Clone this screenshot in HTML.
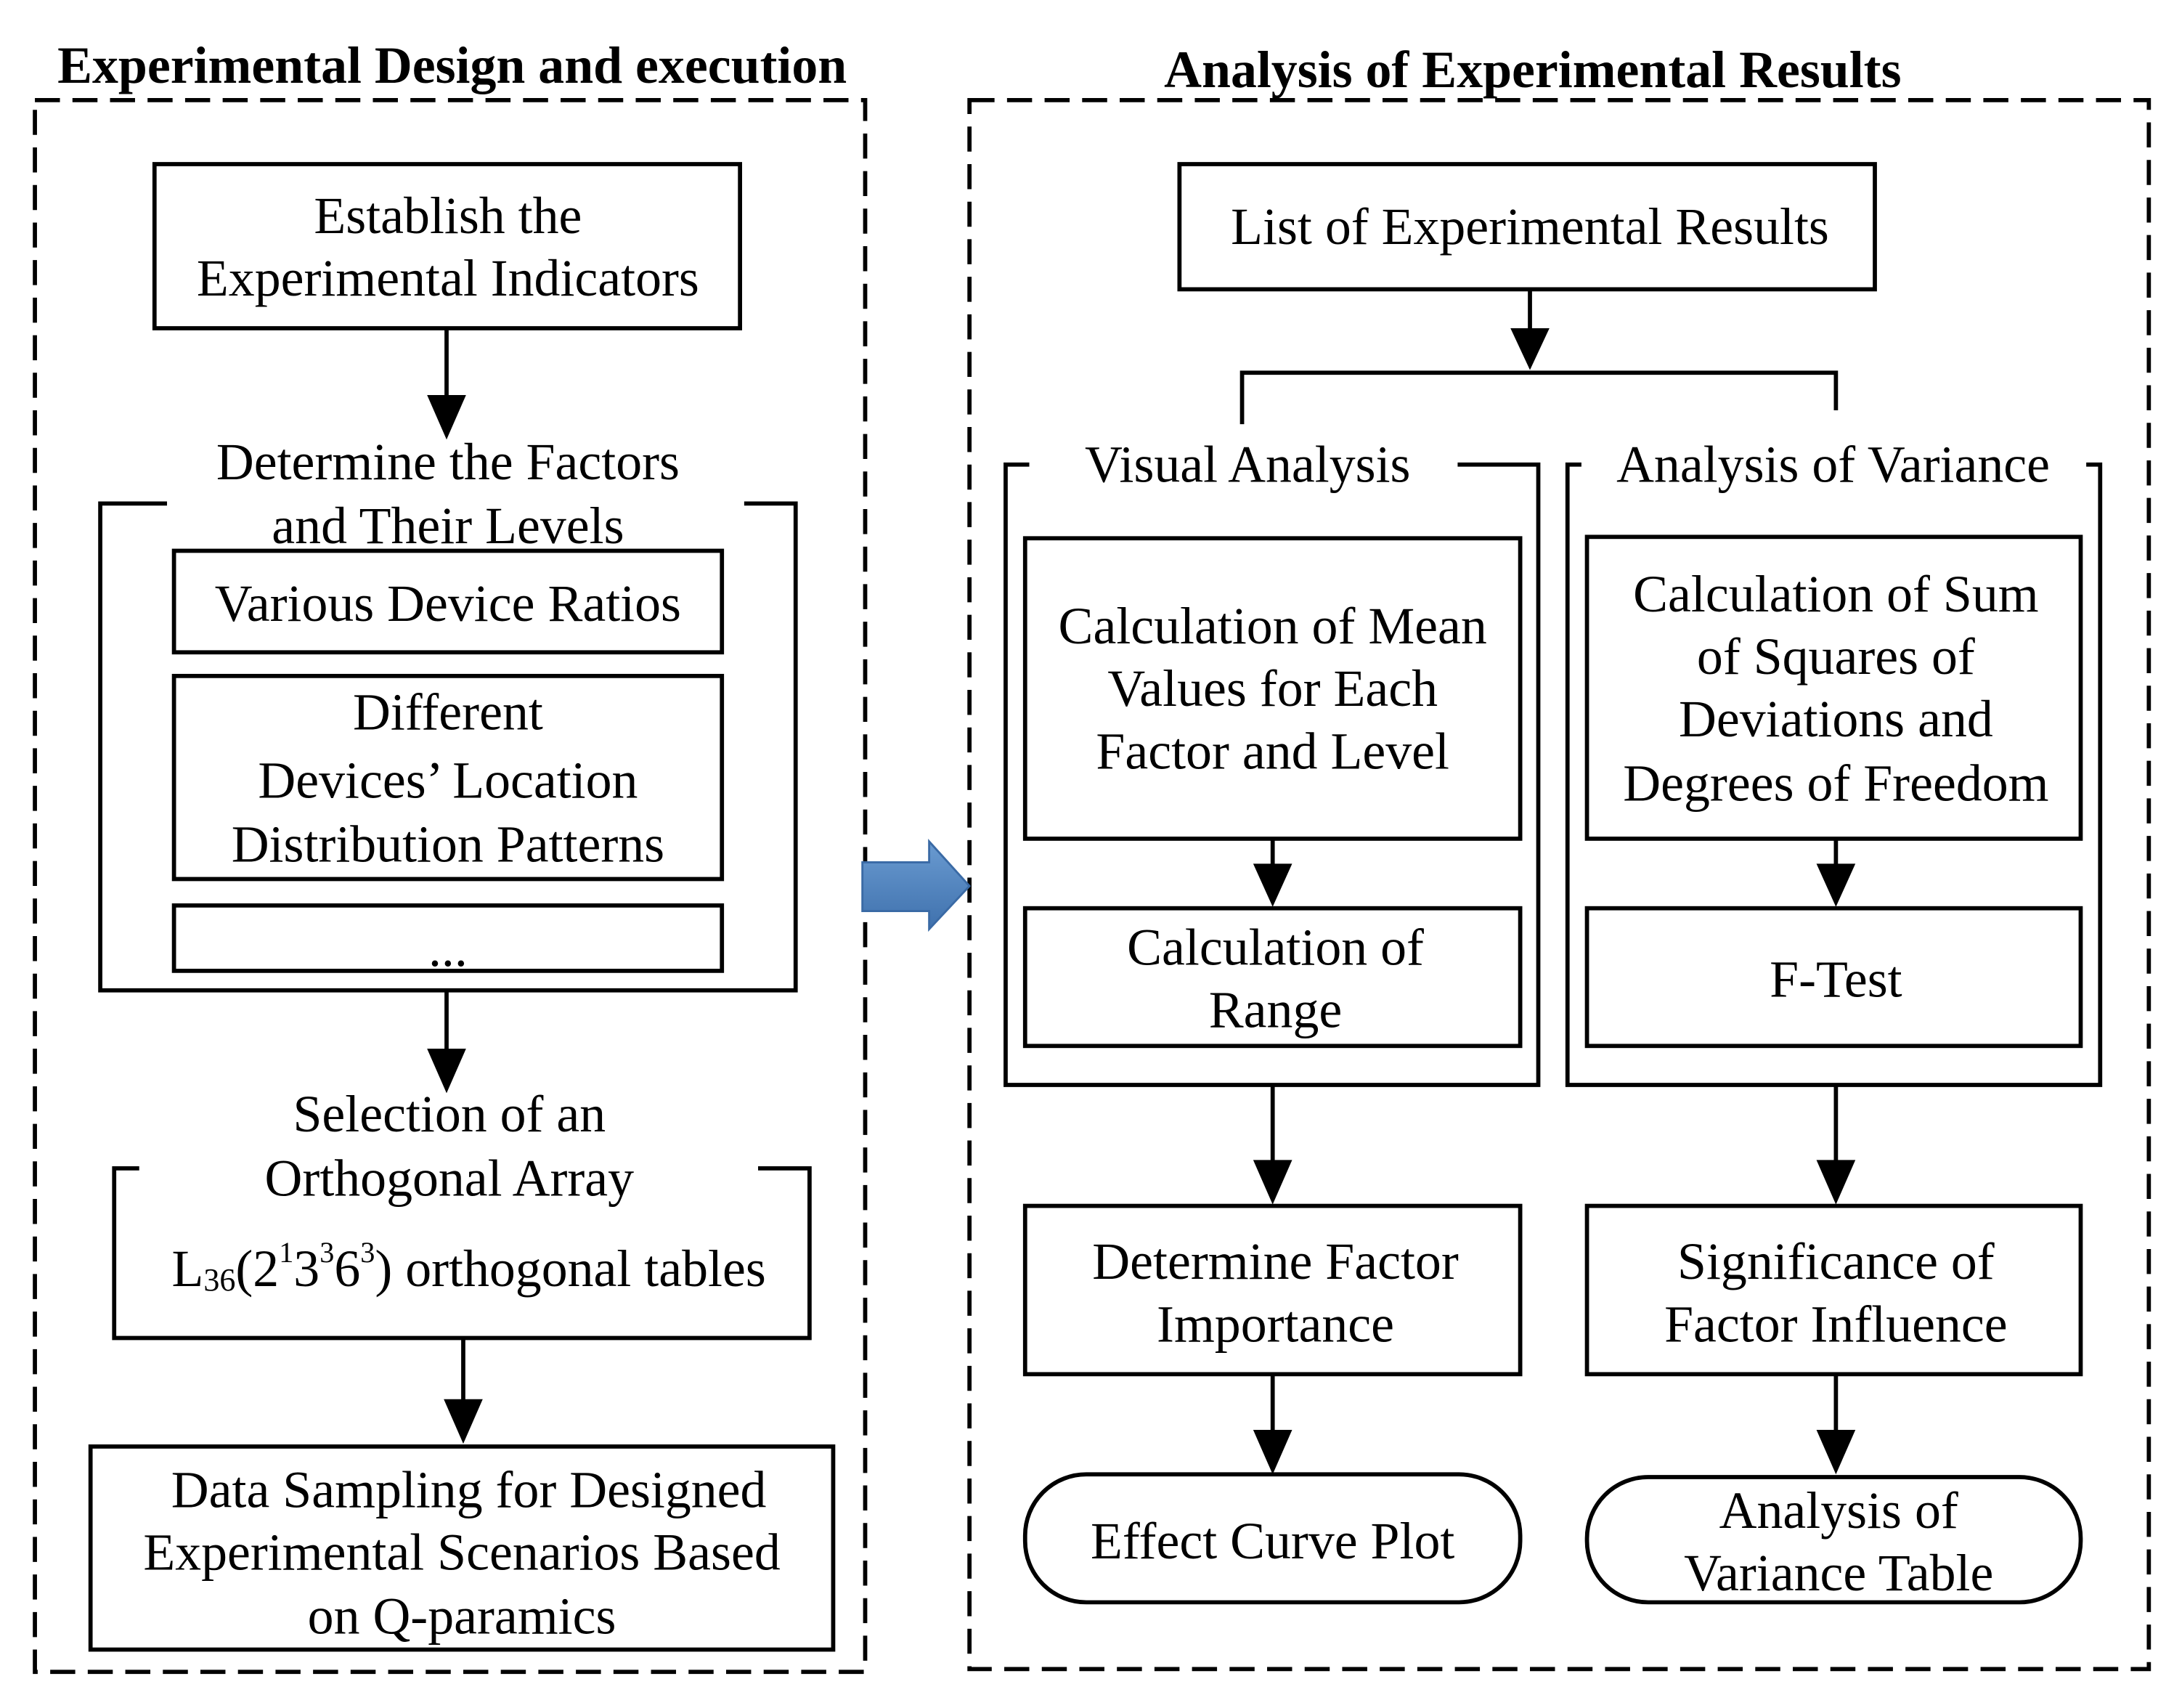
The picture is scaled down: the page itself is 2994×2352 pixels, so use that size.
<!DOCTYPE html>
<html><head><meta charset="utf-8"><style>
html,body{margin:0;padding:0;background:#fff;}
svg{display:block;}
text{font-family:"Liberation Serif",serif;font-size:37.5px;fill:#000;}
.b{font-weight:bold;font-size:37.5px;}
</style></head><body>
<svg width="2994" height="2352" viewBox="0 0 1563 1228" xmlns="http://www.w3.org/2000/svg">
<defs>
<linearGradient id="g" x1="0" y1="0" x2="0" y2="1"><stop offset="0" stop-color="#6a9bd1"/><stop offset="1" stop-color="#3f71ad"/></linearGradient>
</defs>
<g fill="none" stroke="#000" stroke-width="3">
<rect x="25" y="72" width="597" height="1130" stroke-dasharray="18,9"/>
<rect x="697" y="72" width="848" height="1128" stroke-dasharray="18,9"/>
<rect x="111" y="118" width="421" height="118"/>
<path d="M120 362H72V712H572V362H535"/>
<rect x="125" y="396" width="394" height="73"/>
<rect x="125" y="486" width="394" height="146"/>
<rect x="125" y="651" width="394" height="47"/>
<path d="M100 840H82V962H582V840H545"/>
<rect x="65" y="1040" width="534" height="146"/>
<rect x="848" y="118" width="500" height="90"/>
<path d="M893 305V268H1320V295"/>
<path d="M740 334H723V780H1106V334H1048"/>
<path d="M1137 334H1127V780H1510V334H1500"/>
<rect x="737" y="387" width="356" height="216"/>
<rect x="737" y="653" width="356" height="99"/>
<rect x="1141" y="386" width="355" height="217"/>
<rect x="1141" y="653" width="355" height="99"/>
<rect x="737" y="867" width="356" height="121"/>
<rect x="1141" y="867" width="355" height="121"/>
<rect x="737" y="1060" width="356" height="92" rx="44"/>
<rect x="1141" y="1062" width="355" height="90" rx="44"/>
<path d="M321 236V290M321 712V760M333 962V1012M1100 208V240M915 603V627M1320 603V627M915 780V840M1320 780V840M915 988V1034M1320 988V1034"/>
</g>
<g fill="#000">
<path d="M307 284H335L321 316Z"/>
<path d="M307 754H335L321 786Z"/>
<path d="M319 1006H347L333 1038Z"/>
<path d="M1086 236H1114L1100 266Z"/>
<path d="M901 621H929L915 652Z"/>
<path d="M1306 621H1334L1320 652Z"/>
<path d="M901 834H929L915 866Z"/>
<path d="M1306 834H1334L1320 866Z"/>
<path d="M901 1028H929L915 1060Z"/>
<path d="M1306 1028H1334L1320 1060Z"/>
</g>
<path d="M620 620H668V605L697 637L668 668V655H620Z" fill="url(#g)" stroke="#3a6aa5" stroke-width="1.5"/>
<g text-anchor="middle" dominant-baseline="central">
<text class="b" x="325" y="47">Experimental Design and execution</text>
<text class="b" x="1102" y="50">Analysis of Experimental Results</text>
<text x="322" y="155">Establish the</text>
<text x="322" y="200">Experimental Indicators</text>
<text x="322" y="332">Determine the  Factors</text>
<text x="322" y="378">and Their Levels</text>
<text x="322" y="434">Various Device Ratios</text>
<text x="322" y="512">Different</text>
<text x="322" y="561">Devices’  Location</text>
<text x="322" y="607">Distribution Patterns</text>
<text x="322" y="682">...</text>
<text x="323" y="801">Selection of an</text>
<text x="323" y="847">Orthogonal Array</text>
<text x="337" y="912">L<tspan font-size="23" dy="8">36</tspan><tspan dy="-8">(2</tspan><tspan font-size="21" dy="-12">1</tspan><tspan dy="12">3</tspan><tspan font-size="21" dy="-12">3</tspan><tspan dy="12">6</tspan><tspan font-size="21" dy="-12">3</tspan><tspan dy="12">) orthogonal tables</tspan></text>
<text x="337" y="1071">Data Sampling for Designed</text>
<text x="332" y="1116">Experimental Scenarios Based</text>
<text x="332" y="1162">on Q-paramics</text>
<text x="1100" y="163">List of Experimental Results</text>
<text x="897" y="334">Visual Analysis</text>
<text x="1318" y="334">Analysis of Variance</text>
<text x="915" y="450">Calculation of Mean</text>
<text x="915" y="495">Values for Each</text>
<text x="915" y="540">Factor and Level</text>
<text x="917" y="681">Calculation of</text>
<text x="917" y="726">Range</text>
<text x="1320" y="427">Calculation of Sum</text>
<text x="1320" y="472">of Squares of</text>
<text x="1320" y="517">Deviations and</text>
<text x="1320" y="563">Degrees of Freedom</text>
<text x="1320" y="704">F-Test</text>
<text x="917" y="907">Determine Factor</text>
<text x="917" y="952">Importance</text>
<text x="1320" y="907">Significance of</text>
<text x="1320" y="952">Factor Influence</text>
<text x="915" y="1108">Effect Curve Plot</text>
<text x="1322" y="1086">Analysis of</text>
<text x="1322" y="1131">Variance Table</text>
</g>
</svg>
</body></html>
